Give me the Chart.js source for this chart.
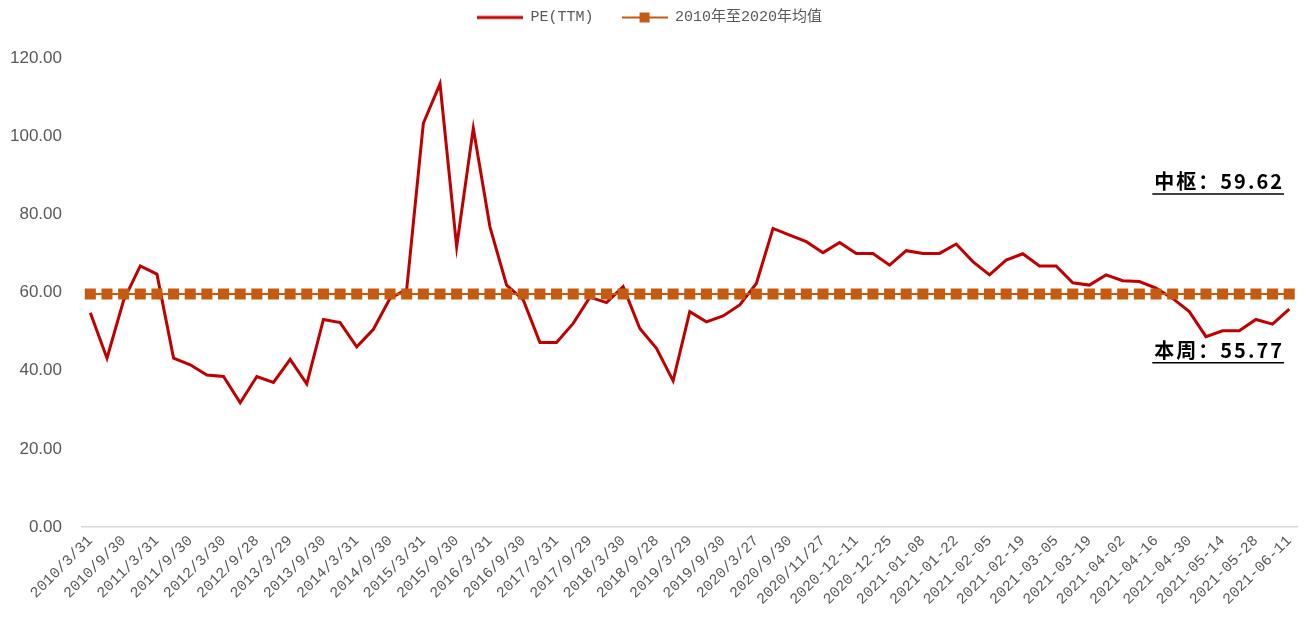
<!DOCTYPE html>
<html>
<head>
<meta charset="utf-8">
<script src="https://cdn.jsdelivr.net/npm/chart.js@4.4.0/dist/chart.umd.min.js"></script>
<style>
  html, body { margin: 0; padding: 0; background: #fff; }
  #wrap { width: 1307px; height: 623px; }
</style>
</head>
<body>
<div id="wrap"><canvas id="peChart"></canvas></div>
<script>
// 日期（偶数位显示在横轴上）
const dates = [
  '2010/3/31', '2010/6/30', '2010/9/30', '2010/12/31', '2011/3/31', '2011/6/30',
  '2011/9/30', '2011/12/30', '2012/3/30', '2012/6/29', '2012/9/28', '2012/12/31',
  '2013/3/29', '2013/6/28', '2013/9/30', '2013/12/31', '2014/3/31', '2014/6/30',
  '2014/9/30', '2014/12/31', '2015/3/31', '2015/6/30', '2015/9/30', '2015/12/31',
  '2016/3/31', '2016/6/30', '2016/9/30', '2016/12/30', '2017/3/31', '2017/6/30',
  '2017/9/29', '2017/12/29', '2018/3/30', '2018/6/29', '2018/9/28', '2018/12/28',
  '2019/3/29', '2019/6/28', '2019/9/30', '2019/12/31', '2020/3/27', '2020/6/30',
  '2020/9/30', '2020/10/30', '2020/11/27', '2020-12-04', '2020-12-11', '2020-12-18',
  '2020-12-25', '2021-01-01', '2021-01-08', '2021-01-15', '2021-01-22', '2021-01-29',
  '2021-02-05', '2021-02-12', '2021-02-19', '2021-02-26', '2021-03-05', '2021-03-12',
  '2021-03-19', '2021-03-26', '2021-04-02', '2021-04-09', '2021-04-16', '2021-04-23',
  '2021-04-30', '2021-05-07', '2021-05-14', '2021-05-21', '2021-05-28', '2021-06-04',
  '2021-06-11'
];

// PE(TTM)
const peTTM = [
  54.8, 43.2, 58.0, 66.8, 64.7, 43.2, 41.5, 38.9, 38.5, 31.8,
  38.5, 37.0, 42.9, 36.6, 53.1, 52.3, 46.1, 50.6, 58.5, 60.8,
  103.3, 113.4, 71.7, 102.0, 76.8, 61.9, 58.1, 47.2, 47.2, 52.1,
  58.8, 57.4, 61.5, 50.8, 45.7, 37.4, 55.1, 52.5, 54.0, 56.8,
  62.3, 76.4, 74.7, 73.0, 70.2, 72.8, 70.0, 70.0, 67.0, 70.7,
  70.0, 70.0, 72.4, 67.9, 64.5, 68.3, 69.9, 66.8, 66.8, 62.5,
  61.9, 64.5, 63.0, 62.8, 61.1, 58.5, 55.1, 48.7, 50.2, 50.2,
  53.1, 51.9, 55.77
];

// 2010年至2020年均值
const peMean = [
  59.62, 59.62, 59.62, 59.62, 59.62, 59.62, 59.62, 59.62, 59.62, 59.62,
  59.62, 59.62, 59.62, 59.62, 59.62, 59.62, 59.62, 59.62, 59.62, 59.62,
  59.62, 59.62, 59.62, 59.62, 59.62, 59.62, 59.62, 59.62, 59.62, 59.62,
  59.62, 59.62, 59.62, 59.62, 59.62, 59.62, 59.62, 59.62, 59.62, 59.62,
  59.62, 59.62, 59.62, 59.62, 59.62, 59.62, 59.62, 59.62, 59.62, 59.62,
  59.62, 59.62, 59.62, 59.62, 59.62, 59.62, 59.62, 59.62, 59.62, 59.62,
  59.62, 59.62, 59.62, 59.62, 59.62, 59.62, 59.62, 59.62, 59.62, 59.62,
  59.62, 59.62, 59.62
];

const yTicks = [0, 20, 40, 60, 80, 100, 120];
const notes = ['中枢：59.62', '本周：55.77'];

const RED = '#c00000';
const ORANGE = '#c55a11';
const GREY = '#595959';

// 图例里的线段样式
function legendIcon(color, withBox) {
  const c = document.createElement('canvas');
  c.width = 46; c.height = 12;
  const g = c.getContext('2d');
  g.strokeStyle = color;
  g.lineWidth = withBox ? 2 : 3;
  g.beginPath(); g.moveTo(0, 6); g.lineTo(46, 6); g.stroke();
  if (withBox) { g.fillStyle = color; g.fillRect(18, 1, 10, 10); }
  return c;
}

// 图例高度固定，让绘图区从 y=58 开始
const legendSpace = {
  id: 'legendSpace',
  beforeInit(chart) {
    const fit = chart.legend.fit;
    chart.legend.fit = function () {
      fit.bind(chart.legend)();
      this.height = 58;
    };
  }
};

// 右侧的两个标注
const noteLabels = {
  id: 'noteLabels',
  afterDraw(chart) {
    const ctx = chart.ctx;
    const y = chart.scales.y;
    const spots = [y.getPixelForValue(86.5), y.getPixelForValue(43.3)];
    ctx.save();
    ctx.font = 'bold 20px "Noto Sans CJK SC", sans-serif';
    ctx.letterSpacing = '2px';
    ctx.fillStyle = '#000';
    ctx.strokeStyle = '#000';
    ctx.lineWidth = 1.5;
    ctx.textAlign = 'left';
    ctx.textBaseline = 'alphabetic';
    notes.forEach((t, i) => {
      const right = 1284;
      const w = ctx.measureText(t).width;
      ctx.fillText(t, right - w, spots[i]);
      ctx.beginPath();
      ctx.moveTo(right - w - 2, spots[i] + 5);
      ctx.lineTo(right, spots[i] + 5);
      ctx.stroke();
    });
    ctx.restore();
  }
};

new Chart(document.getElementById('peChart'), {
  type: 'line',
  data: {
    labels: dates,
    datasets: [
      {
        label: 'PE(TTM)',
        data: peTTM,
        borderColor: RED,
        backgroundColor: RED,
        borderWidth: 3,
        pointRadius: 0,
        tension: 0,
        order: 2
      },
      {
        label: '2010年至2020年均值',
        data: peMean,
        borderColor: ORANGE,
        backgroundColor: ORANGE,
        borderWidth: 2,
        pointStyle: 'rect',
        pointRadius: 7.8,
        pointBorderWidth: 0,
        order: 1
      }
    ]
  },
  options: {
    responsive: true,
    maintainAspectRatio: false,
    animation: false,
    events: [],
    layout: { padding: { right: 8 } },
    plugins: {
      tooltip: { enabled: false },
      legend: {
        position: 'top',
        labels: {
          usePointStyle: true,
          pointStyleWidth: 46,
          boxWidth: 46,
          boxHeight: 12,
          padding: 10,
          color: GREY,
          font: { family: '"Liberation Mono", "Noto Sans CJK SC", monospace', size: 15 },
          generateLabels(chart) {
            return chart.data.datasets.map((ds, i) => ({
              // 第一项后面留空，拉开两项的间距
              text: i === 0 ? ds.label + '  ' : ds.label,
              pointStyle: legendIcon(i === 0 ? RED : ORANGE, i === 1),
              fontColor: GREY,
              lineWidth: 0,
              strokeStyle: 'transparent',
              fillStyle: 'transparent',
              datasetIndex: i
            }));
          }
        }
      }
    },
    scales: {
      x: {
        offset: true,
        grid: { display: false, drawTicks: false },
        border: { display: true, color: '#d9d9d9', width: 1.5 },
        ticks: {
          autoSkip: false,
          minRotation: 45,
          maxRotation: 45,
          padding: 5,
          color: GREY,
          font: { family: '"Liberation Mono", monospace', size: 15 },
          callback: (v, i) => (i % 2 === 0 ? dates[i] : '')
        },
        afterFit(scale) { scale.height = 96; }
      },
      y: {
        min: 0,
        max: 120,
        grid: { display: false, drawTicks: false },
        border: { display: false },
        afterBuildTicks(scale) { scale.ticks = yTicks.map(v => ({ value: v })); },
        ticks: {
          padding: 20,
          color: GREY,
          font: { family: '"Liberation Sans", Arial, sans-serif', size: 17 },
          callback: v => v.toFixed(2)
        },
        afterFit(scale) { scale.width = 82; }
      }
    }
  },
  plugins: [legendSpace, noteLabels]
});
</script>
</body>
</html>
